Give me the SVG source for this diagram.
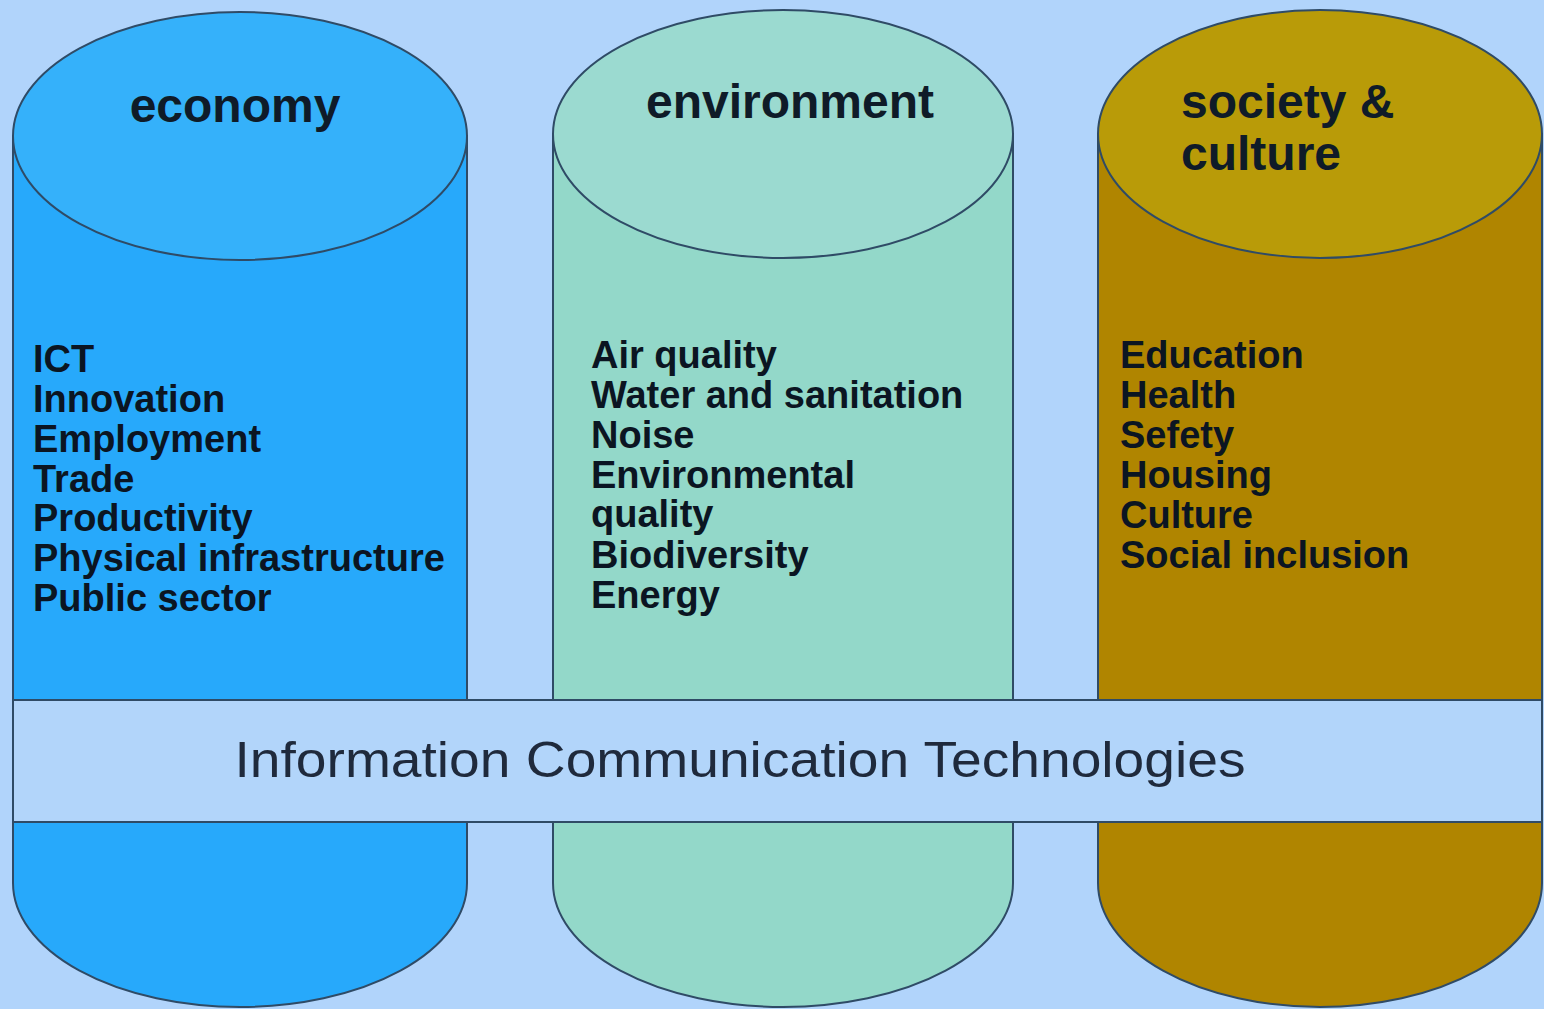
<svg xmlns="http://www.w3.org/2000/svg" width="1544" height="1009" viewBox="0 0 1544 1009">
<style>
.edge{stroke:#2f4b66;stroke-width:2}
.head{font-family:"Liberation Sans",Arial,sans-serif;font-weight:bold;font-size:48px;fill:#0f1b28}
.item{font-family:"Liberation Sans",Arial,sans-serif;font-weight:bold;font-size:38px;fill:#0b1522}
.band{font-family:"Liberation Sans",Arial,sans-serif;font-size:50px;fill:#1f2a3c}
</style>
<rect x="0" y="0" width="1544" height="1009" fill="#b1d4fb"/>
<g id="economy">
<path class="edge" d="M13,136 L13,883 A227,124 0 0 0 467,883 L467,136 Z" fill="#27a9fb"/>
<ellipse class="edge" cx="240" cy="136" rx="227" ry="124" fill="#35b1fa"/>
<text class="head" x="235" y="122" text-anchor="middle">economy</text>
<text class="item" x="33" y="372">ICT</text>
<text class="item" x="33" y="412">Innovation</text>
<text class="item" x="33" y="452">Employment</text>
<text class="item" x="33" y="492">Trade</text>
<text class="item" x="33" y="531">Productivity</text>
<text class="item" x="33" y="571">Physical infrastructure</text>
<text class="item" x="33" y="611">Public sector</text>
</g>
<g id="environment">
<path class="edge" d="M553,134 L553,883 A230,124 0 0 0 1013,883 L1013,134 Z" fill="#93d8c9"/>
<ellipse class="edge" cx="783" cy="134" rx="230" ry="124" fill="#9bdad0"/>
<text class="head" x="790" y="118" text-anchor="middle">environment</text>
<text class="item" x="591" y="368">Air quality</text>
<text class="item" x="591" y="408">Water and sanitation</text>
<text class="item" x="591" y="448">Noise</text>
<text class="item" x="591" y="488">Environmental</text>
<text class="item" x="591" y="527">quality</text>
<text class="item" x="591" y="568">Biodiversity</text>
<text class="item" x="591" y="608">Energy</text>
</g>
<g id="society">
<path class="edge" d="M1098,134 L1098,883 A222,124 0 0 0 1542,883 L1542,134 Z" fill="#b08500" stroke="#3d4a3a"/>
<ellipse class="edge" cx="1320" cy="134" rx="222" ry="124" fill="#b99b08" stroke="#3d4a3a"/>
<text class="head" x="1181" y="118" fill="#1a1400">society &amp;</text>
<text class="head" x="1181" y="170">culture</text>
<text class="item" x="1120" y="368">Education</text>
<text class="item" x="1120" y="408">Health</text>
<text class="item" x="1120" y="448">Sefety</text>
<text class="item" x="1120" y="488">Housing</text>
<text class="item" x="1120" y="528">Culture</text>
<text class="item" x="1120" y="568">Social inclusion</text>
</g>
<g id="ict">
<rect class="edge" x="13" y="700" width="1529" height="122" fill="#b2d5fa"/>
<text class="band" x="740" y="777" text-anchor="middle" textLength="1011" lengthAdjust="spacingAndGlyphs">Information Communication Technologies</text>
</g>
<g id="connectors"></g>
</svg>
